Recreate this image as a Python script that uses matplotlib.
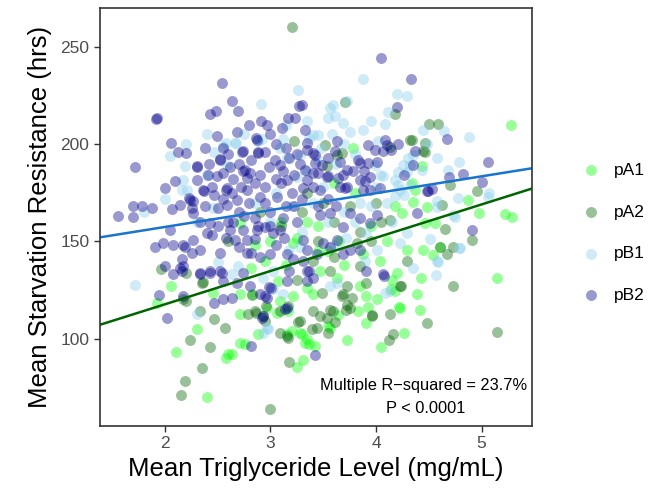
import matplotlib
matplotlib.use("Agg")
import matplotlib.pyplot as plt
import numpy as np

plt.rcParams["font.family"] = ["Liberation Sans", "DejaVu Sans"]

# points: (mean triglyceride, mean starvation resistance)
PA1 = [
    (2.06, 127.3), (1.93, 118.6), (2.30, 105.2), (2.11, 93.3), (2.58, 90.2), (2.60, 92.3), (2.64, 92.3),
    (2.71, 97.9), (2.76, 97.4), (2.40, 70.1), (2.71, 112.9), (2.71, 123.2), (2.83, 123.2), (2.46, 123.7),
    (3.16, 102.6), (3.28, 103.0), (3.33, 97.9), (3.37, 97.4), (3.25, 85.6), (3.31, 89.2), (3.21, 122.2),
    (5.15, 131.0), (4.43, 131.4), (4.39, 123.2), (4.42, 115.0), (4.22, 116.5), (4.27, 103.0), (4.05, 95.9),
    (4.15, 130.0), (4.14, 125.8), (3.91, 108.2), (3.83, 114.4), (3.92, 116.5), (3.73, 99.5), (3.64, 112.4),
    (3.55, 106.7), (3.85, 127.3), (3.42, 96.4), (4.54, 142.8), (4.45, 145.4), (4.61, 146.9), (4.98, 164.4),
    (5.22, 163.9), (5.29, 162.4), (4.56, 159.3), (4.46, 159.3), (5.28, 209.8), (4.44, 188.7), (4.87, 171.1),
    (4.48, 167.5), (3.78, 197.9), (4.34, 179.9), (4.37, 176.3), (4.35, 170.1), (4.18, 168.0), (4.25, 164.4),
    (2.71, 159.3), (2.82, 136.6), (3.21, 149.0), (3.35, 126.3), (3.09, 119.6), (3.07, 129.9), (3.17, 114.4),
    (3.06, 113.4), (2.97, 116.0), (2.88, 102.6), (3.20, 104.1), (3.40, 123.2), (3.47, 135.0), (3.63, 131.4),
    (3.91, 122.2), (4.20, 134.0), (4.29, 145.4), (4.18, 124.7), (4.23, 116.0), (4.01, 120.6), (4.04, 140.2),
    (3.88, 143.8), (3.56, 105.7), (3.30, 102.6), (3.35, 100.0), (3.10, 160.0), (3.25, 152.0), (3.45, 158.0),
    (3.00, 150.0), (2.85, 148.0), (3.55, 145.0), (3.15, 138.0), (2.95, 140.0), (3.45, 145.0), (3.65, 150.0),
    (3.35, 160.0), (3.70, 138.0), (3.95, 158.0), (4.10, 150.0), (3.80, 175.0), (3.60, 180.0),
]
PA2 = [
    (3.20, 260.3), (3.22, 201.5), (1.96, 136.0), (2.20, 134.0), (2.20, 119.6), (2.36, 129.4), (2.33, 114.4),
    (2.47, 110.3), (2.57, 105.7), (2.24, 99.5), (2.43, 95.9), (2.35, 85.0), (2.19, 78.4), (2.15, 71.1),
    (3.00, 64.0), (2.86, 113.4), (2.93, 111.9), (3.09, 103.0), (3.17, 100.5), (3.18, 88.1), (3.26, 108.8),
    (2.96, 117.0), (3.17, 117.0), (2.83, 122.7), (5.15, 103.6), (4.73, 127.3), (4.48, 108.2), (4.16, 102.6),
    (4.12, 99.5), (4.24, 127.3), (3.96, 112.4), (3.73, 117.5), (3.72, 115.0), (3.77, 121.1), (3.56, 115.0),
    (3.47, 111.9), (3.61, 108.8), (3.55, 103.0), (3.44, 105.7), (3.68, 122.2), (3.73, 127.3), (4.91, 150.5),
    (4.73, 146.9), (4.67, 143.8), (4.61, 146.9), (4.65, 156.2), (4.50, 210.3), (4.59, 210.3), (4.46, 200.5),
    (4.45, 196.4), (4.70, 178.9), (4.96, 175.8), (4.63, 168.6), (3.71, 221.6), (4.18, 215.5), (4.34, 202.0),
    (3.52, 199.5), (3.68, 195.4), (3.54, 188.7), (3.63, 194.3), (4.13, 198.5), (4.32, 202.0), (4.46, 195.9),
    (2.35, 128.9), (2.79, 112.9), (2.85, 114.4), (2.95, 109.3), (3.09, 114.4), (3.28, 109.3), (2.17, 120.6),
    (3.16, 101.5), (3.69, 123.2), (3.75, 116.0), (3.59, 114.4), (3.54, 110.8), (3.39, 105.2), (3.40, 114.4),
    (4.13, 160.8), (4.29, 140.2), (4.23, 127.3), (4.13, 112.9), (3.96, 111.9), (3.91, 128.4), (3.85, 137.6),
    (3.56, 135.0), (3.82, 149.0), (3.49, 123.7), (3.30, 165.0), (3.10, 158.0), (2.90, 165.0), (3.45, 150.0),
    (3.60, 160.0), (2.60, 150.0), (3.35, 175.0), (3.40, 140.0), (3.60, 142.0), (3.25, 130.0), (3.85, 155.0),
    (3.95, 150.0), (4.05, 160.0), (3.50, 170.0), (3.75, 168.0), (4.00, 170.0),
]
PB1 = [
    (3.26, 227.8), (2.91, 220.6), (2.05, 193.8), (2.55, 199.0), (2.66, 200.5), (2.16, 176.3), (2.46, 167.0),
    (1.72, 127.8), (2.30, 112.9), (2.93, 103.0), (2.98, 105.2), (3.02, 125.8), (3.12, 123.2), (4.57, 133.0),
    (4.09, 123.7), (4.80, 146.4), (4.59, 139.2), (4.51, 151.5), (4.79, 146.4), (4.58, 139.7), (4.75, 162.4),
    (4.45, 207.2), (4.64, 206.7), (4.88, 203.6), (4.58, 192.8), (4.79, 190.7), (4.68, 186.6), (5.07, 174.7),
    (5.06, 172.7), (4.78, 172.2), (4.58, 167.5), (4.73, 163.4), (3.88, 233.5), (4.20, 225.8), (4.29, 224.7),
    (3.73, 222.0), (3.59, 220.0), (3.56, 218.6), (3.61, 214.4), (3.55, 213.4), (4.11, 216.5), (4.09, 210.3),
    (3.69, 210.8), (3.75, 206.2), (3.88, 207.2), (3.58, 205.2), (3.45, 204.6), (4.48, 200.0), (4.02, 201.5),
    (3.99, 189.2), (4.07, 183.5), (4.21, 185.6), (4.26, 189.2), (4.30, 192.8), (4.21, 178.9), (4.27, 173.7),
    (4.18, 173.2), (4.58, 170.6), (3.12, 202.6), (2.92, 202.6), (2.67, 200.5), (2.58, 200.5), (2.47, 195.9),
    (2.19, 188.7), (2.17, 181.4), (2.21, 176.3), (3.40, 204.6), (4.04, 184.0), (4.18, 181.4), (4.23, 176.3),
    (4.29, 185.6), (4.32, 189.2), (4.35, 194.3), (4.44, 186.6), (4.32, 178.9), (2.50, 139.2), (2.69, 137.6),
    (2.64, 133.5), (2.93, 131.4), (3.02, 135.0), (3.18, 145.4), (3.28, 147.0), (2.97, 105.7), (4.29, 154.1),
    (4.23, 149.0), (4.35, 136.6), (4.13, 124.7), (4.01, 145.4), (3.91, 154.1), (3.56, 127.3), (3.63, 128.4),
    (2.40, 184.0), (2.59, 189.2), (2.88, 201.5), (3.09, 197.9), (3.16, 192.8), (3.28, 194.3), (3.37, 203.0),
    (3.35, 186.1), (1.80, 165.0), (2.00, 172.0), (2.30, 160.0), (2.85, 170.0), (3.05, 175.0), (3.20, 168.0),
    (3.40, 170.0), (3.55, 160.0), (3.70, 165.0), (3.30, 155.0), (3.00, 160.0), (3.85, 170.0), (3.50, 178.0),
    (3.15, 210.0), (3.35, 212.0), (3.48, 198.0), (3.62, 190.0), (3.70, 200.0), (3.80, 195.0), (3.95, 212.0),
    (3.45, 192.0), (3.25, 183.0), (3.80, 160.0), (3.95, 168.0), (4.10, 170.0), (2.75, 205.0), (2.40, 205.0),
    (2.20, 200.0), (3.60, 148.0), (3.72, 152.0), (3.90, 140.0), (4.00, 178.0), (4.15, 160.0),
]
PB2 = [
    (2.54, 231.4), (2.64, 222.0), (3.27, 219.6), (2.48, 217.0), (2.43, 215.5), (2.69, 217.0), (1.92, 212.9),
    (1.93, 213.5), (2.91, 211.9), (2.97, 209.8), (3.17, 213.4), (3.23, 213.4), (3.11, 208.2), (2.49, 204.0),
    (2.06, 200.5), (3.35, 200.5), (2.12, 195.9), (2.20, 195.4), (2.38, 197.9), (2.74, 196.4), (2.88, 195.4),
    (2.87, 202.0), (1.72, 188.0), (2.30, 188.7), (2.52, 191.8), (2.00, 177.3), (2.10, 181.0), (2.30, 181.4),
    (2.37, 175.8), (1.70, 168.0), (1.78, 168.0), (1.88, 167.0), (1.56, 162.9), (2.07, 166.5), (2.14, 168.6),
    (2.23, 172.2), (2.27, 170.6), (2.58, 176.3), (2.64, 174.7), (2.74, 186.0), (2.78, 182.5), (2.49, 183.5),
    (1.70, 162.4), (1.91, 147.0), (1.98, 149.0), (2.08, 148.0), (2.05, 155.7), (2.19, 147.0), (2.16, 141.2),
    (2.00, 137.6), (2.14, 136.6), (2.08, 133.5), (1.94, 122.7), (2.02, 110.8), (2.17, 122.2), (2.33, 134.0),
    (2.43, 135.0), (2.54, 134.0), (2.47, 118.6), (2.55, 120.6), (2.64, 121.0), (2.82, 96.4), (2.93, 111.9),
    (3.14, 115.5), (2.95, 122.2), (2.99, 126.8), (3.42, 91.8), (4.08, 132.5), (4.91, 155.7), (4.05, 244.3),
    (4.33, 233.5), (4.20, 219.0), (4.67, 202.6), (5.06, 190.7), (4.69, 183.0), (4.82, 184.5), (5.00, 180.4),
    (4.48, 175.8), (4.53, 176.8), (4.37, 196.4), (4.39, 164.4), (3.92, 199.5), (3.99, 196.9), (4.09, 202.0),
    (4.10, 199.5), (4.14, 196.9), (4.21, 200.0), (4.07, 196.4), (3.63, 201.5), (3.61, 196.4), (3.42, 194.3),
    (3.49, 189.2), (3.55, 192.8), (3.83, 191.8), (3.89, 186.1), (3.92, 190.2), (3.73, 186.6), (3.78, 186.1),
    (3.64, 182.5), (3.55, 183.5), (3.45, 185.0), (3.90, 180.9), (3.88, 176.3), (3.71, 177.3), (4.27, 184.0),
    (4.35, 189.2), (4.49, 175.8), (3.33, 207.2), (3.30, 220.0), (2.86, 203.0), (2.88, 195.9), (2.73, 195.9),
    (2.55, 197.9), (2.52, 192.3), (2.62, 188.1), (2.76, 186.6), (2.30, 188.1), (2.41, 184.0), (2.36, 176.3),
    (2.47, 173.7), (2.59, 177.3), (2.81, 185.0), (2.90, 184.0), (2.99, 188.1), (3.04, 191.8), (3.09, 189.2),
    (3.18, 192.8), (3.16, 181.4), (3.06, 172.7), (2.90, 172.7), (2.78, 176.3), (2.68, 171.1), (2.59, 168.6),
    (2.50, 167.0), (2.24, 171.1), (2.26, 167.0), (3.35, 196.9), (3.40, 195.4), (3.66, 190.7), (3.85, 190.2),
    (4.01, 190.7), (3.42, 190.2), (3.33, 186.6), (3.40, 185.0), (3.54, 183.0), (3.69, 184.0), (3.66, 177.8),
    (3.73, 177.8), (3.85, 181.4), (3.94, 183.0), (3.94, 176.3), (4.04, 177.3), (3.35, 181.4), (3.31, 177.3),
    (3.47, 176.3), (2.27, 164.4), (2.33, 159.8), (2.43, 159.3), (2.40, 154.1), (2.45, 153.1), (2.27, 150.5),
    (2.17, 148.0), (2.33, 145.4), (2.26, 144.3), (2.17, 137.6), (2.16, 135.0), (2.52, 144.3), (2.62, 155.7),
    (2.66, 150.5), (2.74, 155.7), (2.78, 150.5), (2.87, 155.7), (2.95, 157.2), (3.02, 154.1), (3.09, 155.7),
    (2.78, 144.3), (2.82, 144.3), (2.90, 141.8), (3.00, 143.8), (3.16, 143.8), (3.21, 141.2), (3.31, 140.2),
    (3.18, 135.0), (2.74, 134.0), (2.43, 134.0), (2.52, 135.0), (2.33, 133.5), (2.55, 129.9), (2.68, 128.4),
    (2.81, 127.3), (2.90, 123.2), (3.01, 126.3), (2.97, 121.1), (3.16, 116.0), (2.92, 110.8), (3.16, 129.9),
    (3.35, 129.9), (3.35, 135.0), (3.47, 163.4), (3.56, 164.4), (3.75, 164.4), (3.85, 161.9), (3.94, 159.3),
    (4.01, 163.4), (3.69, 157.2), (3.63, 150.5), (3.50, 149.0), (3.44, 143.8), (3.35, 145.4), (3.31, 150.5),
    (3.37, 135.0), (3.40, 131.4), (3.56, 146.9), (3.75, 145.4), (3.85, 145.4), (3.91, 135.0), (4.07, 133.5),
    (3.69, 143.8), (2.70, 165.0), (2.85, 162.0), (3.00, 165.0), (3.15, 168.0), (3.25, 160.0), (2.95, 178.0),
    (3.10, 180.0), (3.20, 175.0), (2.60, 160.0), (2.80, 170.0), (2.55, 185.0), (2.65, 182.0), (2.72, 178.0),
    (2.85, 180.0), (2.95, 170.0), (3.05, 182.0), (3.12, 186.0), (3.22, 184.0), (3.28, 190.0), (2.60, 195.0),
    (2.70, 190.0), (2.82, 192.0), (2.95, 196.0), (3.05, 200.0), (3.15, 198.0), (3.25, 195.0), (2.45, 178.0),
    (2.38, 168.0), (2.55, 172.0), (2.65, 160.0), (2.75, 163.0), (2.88, 158.0), (3.00, 158.0), (3.12, 162.0),
    (3.22, 168.0), (3.30, 172.0), (3.40, 178.0), (2.50, 158.0), (2.58, 152.0), (2.70, 147.0), (2.85, 151.0),
    (3.05, 148.0), (3.13, 152.0), (3.45, 168.0), (3.55, 172.0), (3.62, 168.0), (2.42, 190.0), (2.68, 206.0),
    (2.80, 210.0), (3.00, 205.0),
]

GROUPS = ["pA1", "pA2", "pB1", "pB2"]
COLORS = ["#00FF00", "#006400", "#87CEEB", "#00008B"]

# fitted lines (intercept, slope)
FIT_B = (140.1, 8.67)
FIT_A = (83.5, 17.1)

fig = plt.figure(figsize=(6.57, 4.93), dpi=100)
ax = fig.add_axes([0.152, 0.136, 0.658, 0.848])

for name, pts, col in zip(GROUPS, [PA1, PA2, PB1, PB2], COLORS):
    arr = np.array(pts)
    ax.scatter(arr[:, 0], arr[:, 1], s=62, color=col, alpha=0.4, linewidths=0, label=name)

xlim = (1.384, 5.48)
xs = np.array(xlim)
ax.plot(xs, FIT_B[0] + FIT_B[1] * xs, color="#1874CD", lw=1.8)
ax.plot(xs, FIT_A[0] + FIT_A[1] * xs, color="#006400", lw=1.8)

ax.set_xlim(*xlim)
ax.set_ylim(55.2, 270)
ax.set_xticks([2, 3, 4, 5])
ax.set_yticks([100, 150, 200, 250])
ax.tick_params(colors="#333333", labelcolor="#4D4D4D", labelsize=12.5, length=4, width=1)
for sp in ax.spines.values():
    sp.set_color("#333333")
    sp.set_linewidth(1.2)

ax.set_xlabel("Mean Triglyceride Level (mg/mL)", fontsize=18.5, labelpad=4)
ax.set_ylabel("Mean Starvation Resistance (hrs)", fontsize=18.5, labelpad=6)

ax.text(5.43, 76, "Multiple R\u2212squared = 23.7%", ha="right", va="center", fontsize=11.8)
ax.text(4.47, 64, "P < 0.0001", ha="center", va="center", fontsize=11.8)

leg = ax.legend(loc="center left", bbox_to_anchor=(1.06, 0.462), frameon=False, fontsize=12.5,
                handletextpad=0.3, labelspacing=1.53, markerscale=1.0)
for h in leg.legend_handles:
    h.set_sizes([62])

fig.savefig("out.png", dpi=100)
